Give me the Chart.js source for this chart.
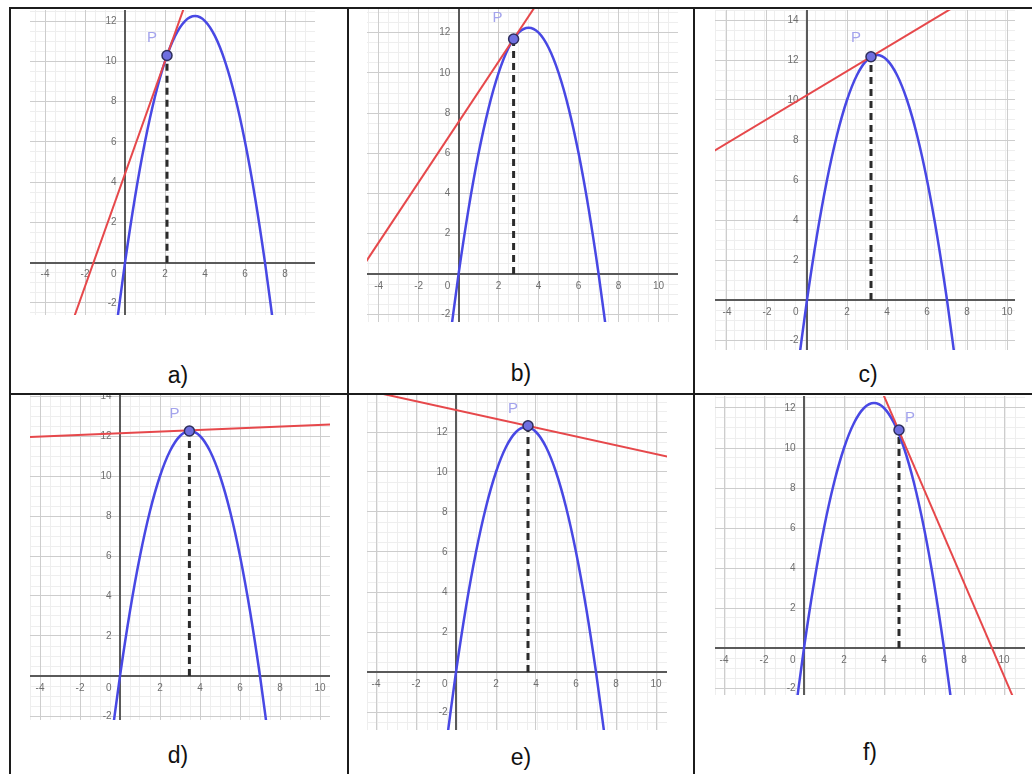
<!DOCTYPE html>
<html>
<head>
<meta charset="utf-8">
<script src="https://cdn.jsdelivr.net/npm/chart.js@4.4.0/dist/chart.umd.min.js"></script>
<style>
  body { margin: 0; background: #fff; }
  #sheet { position: relative; width: 1032px; height: 774px; background: #fff; overflow: hidden; }
  .plot { position: absolute; }
  .rule { position: absolute; background: #1c1c1c; }
  .caption {
    position: absolute; width: 60px; height: 28px; line-height: 28px; text-align: center;
    font-family: "Liberation Sans", Arial, sans-serif; font-size: 23px; color: #111;
  }
</style>
</head>
<body>
<div id="sheet"></div>
<script>
// parabola f(x) = 7x - x^2, points along the curve
const curveX = [-0.4, 0, 0.5, 1, 1.5, 2, 2.5, 3, 3.5, 4, 4.5, 5, 5.5, 6, 6.5, 7, 7.4];
const curveY = [-2.96, 0, 3.25, 6, 8.25, 10, 11.25, 12, 12.25, 12, 11.25, 10, 8.25, 6, 3.25, 0, -2.96];

const panelNames = ['a)', 'b)', 'c)', 'd)', 'e)', 'f)'];

// point P on the curve for each panel
const pointX = [2.1, 2.75, 3.2, 3.47, 3.6, 4.75];
const pointY = [10.29, 11.69, 12.16, 12.25, 12.31, 10.9];

// tangent through P, two end points per panel
const tangentX = [[-2.65, 3.07], [-5, 4.29], [-5, 7.93], [-5, 11], [-5, 11], [3.7, 10.6]];
const tangentY = [[-3, 13], [0.06, 14], [7.24, 15], [11.93, 12.6], [14.2, 10.68], [13.3, -2.8]];

const xTickValues = [-4, -2, 0, 2, 4, 6, 8, 10];
const yTickValues = [-2, 2, 4, 6, 8, 10, 12, 14];

// where each graph sits on the sheet and the window it shows
const panels = [
  { left: 30,  top: 10,  width: 285, height: 305, xMin: -4.75, xMax: 9.5,   yMin: -2.6,  yMax: 12.55, labelDx: -15, labelDy: -18 },
  { left: 367, top: 9,   width: 311, height: 313, xMin: -4.58, xMax: 10.97, yMin: -2.39, yMax: 13.18, labelDx: -16, labelDy: -21 },
  { left: 715, top: 10,  width: 300, height: 340, xMin: -4.6,  xMax: 10.4,  yMin: -2.5,  yMax: 14.5,  labelDx: -15, labelDy: -19 },
  { left: 30,  top: 395, width: 300, height: 325, xMin: -4.5,  xMax: 10.5,  yMin: -2.2,  yMax: 14.05, labelDx: -15, labelDy: -17 },
  { left: 367, top: 395, width: 300, height: 335, xMin: -4.45, xMax: 10.55, yMin: -2.9,  yMax: 13.85, labelDx: -15, labelDy: -17 },
  { left: 715, top: 396, width: 310, height: 299, xMin: -4.45, xMax: 11.05, yMin: -2.35, yMax: 12.6,  labelDx: 11,  labelDy: -12 }
];
const captionPos = [[178, 375], [521, 373], [868, 374], [178, 755], [521, 757], [870, 752]];

const sheet = document.getElementById('sheet');

// table rules
[
  [9, 7, 2, 767], [347, 7, 2, 767], [693, 7, 2, 767],
  [9, 7, 1023, 2], [9, 393, 1023, 2]
].forEach(([l, t, w, h]) => {
  const d = document.createElement('div');
  d.className = 'rule';
  d.style.cssText = `left:${l}px;top:${t}px;width:${w}px;height:${h}px`;
  sheet.appendChild(d);
});

const tickFont = { family: '"Liberation Sans", Arial, sans-serif', size: 10 };
const tickColor = '#6e6e6e';

function noPadding(scale) {
  scale.paddingTop = 0;
  scale.paddingBottom = 0;
  scale.paddingLeft = 0;
  scale.paddingRight = 0;
}

function pickTicks(values) {
  return scale => {
    scale.ticks = values.filter(v => v >= scale.min && v <= scale.max).map(v => ({ value: v }));
  };
}

const pointLabel = {
  id: 'pointLabel',
  afterDatasetsDraw(chart, args, opts) {
    const { ctx, scales: { x, y } } = chart;
    ctx.save();
    ctx.font = '15px "Liberation Sans", Arial, sans-serif';
    ctx.fillStyle = '#a3a3ec';
    ctx.textAlign = 'center';
    ctx.textBaseline = 'middle';
    ctx.fillText('P', x.getPixelForValue(opts.x) + opts.dx, y.getPixelForValue(opts.y) + opts.dy);
    ctx.restore();
  }
};

panels.forEach((p, i) => {
  const canvas = document.createElement('canvas');
  canvas.className = 'plot';
  canvas.width = p.width;
  canvas.height = p.height;
  canvas.style.left = p.left + 'px';
  canvas.style.top = p.top + 'px';
  sheet.appendChild(canvas);

  const cap = document.createElement('div');
  cap.className = 'caption';
  cap.textContent = panelNames[i];
  cap.style.left = (captionPos[i][0] - 30) + 'px';
  cap.style.top = (captionPos[i][1] - 14) + 'px';
  sheet.appendChild(cap);

  const curve = curveX.map((x, k) => ({ x: x, y: curveY[k] }));
  const tangent = tangentX[i].map((x, k) => ({ x: x, y: tangentY[i][k] }));

  new Chart(canvas, {
    type: 'scatter',
    data: {
      datasets: [
        {
          data: [{ x: pointX[i], y: pointY[i] }],
          pointRadius: 5,
          pointBackgroundColor: '#6f6fe0',
          pointBorderColor: '#2e2e5c',
          pointBorderWidth: 1.5,
          order: 0
        },
        {
          data: tangent,
          showLine: true,
          borderColor: '#e6484b',
          borderWidth: 2,
          pointRadius: 0,
          order: 1
        },
        {
          data: curve,
          showLine: true,
          cubicInterpolationMode: 'monotone',
          borderColor: '#4848e4',
          borderWidth: 2.5,
          pointRadius: 0,
          order: 2
        },
        {
          data: [{ x: pointX[i], y: 0 }, { x: pointX[i], y: pointY[i] }],
          showLine: true,
          borderColor: '#2b2b2b',
          borderWidth: 3,
          borderDash: [7, 5],
          pointRadius: 0,
          order: 3
        }
      ]
    },
    options: {
      responsive: false,
      animation: false,
      events: [],
      layout: { padding: 0, autoPadding: false },
      plugins: {
        legend: { display: false },
        tooltip: { enabled: false },
        pointLabel: { x: pointX[i], y: pointY[i], dx: p.labelDx, dy: p.labelDy }
      },
      scales: {
        xMinor: {
          type: 'linear', axis: 'x', position: 'bottom',
          min: p.xMin, max: p.xMax,
          ticks: { display: false, stepSize: 0.5, includeBounds: false },
          grid: { color: '#eeeeee', drawTicks: false, z: -2 },
          border: { display: false }
        },
        yMinor: {
          type: 'linear', axis: 'y', position: 'left',
          min: p.yMin, max: p.yMax,
          ticks: { display: false, stepSize: 0.5, includeBounds: false },
          grid: { color: '#eeeeee', drawTicks: false, z: -2 },
          border: { display: false }
        },
        x: {
          type: 'linear',
          position: { y: 0 },
          min: p.xMin, max: p.xMax,
          afterBuildTicks: pickTicks(xTickValues),
          afterFit: noPadding,
          grid: { color: '#cdcdcd', drawTicks: false },
          border: { color: '#5a5a5a', width: 2 },
          ticks: {
            padding: 6,
            font: tickFont,
            color: tickColor,
            maxRotation: 0,
            autoSkip: false,
            callback: v => (v === 0 ? '0\u2007\u2007\u2007\u2007' : String(v))
          }
        },
        y: {
          type: 'linear',
          position: { x: 0 },
          min: p.yMin, max: p.yMax,
          afterBuildTicks: pickTicks(yTickValues),
          afterFit: noPadding,
          grid: { color: '#cdcdcd', drawTicks: false },
          border: { color: '#5a5a5a', width: 2 },
          ticks: {
            font: tickFont,
            color: tickColor,
            autoSkip: false,
            callback: v => (v === 0 ? '' : v + '   ')
          }
        }
      }
    },
    plugins: [pointLabel]
  });
});
</script>
</body>
</html>
